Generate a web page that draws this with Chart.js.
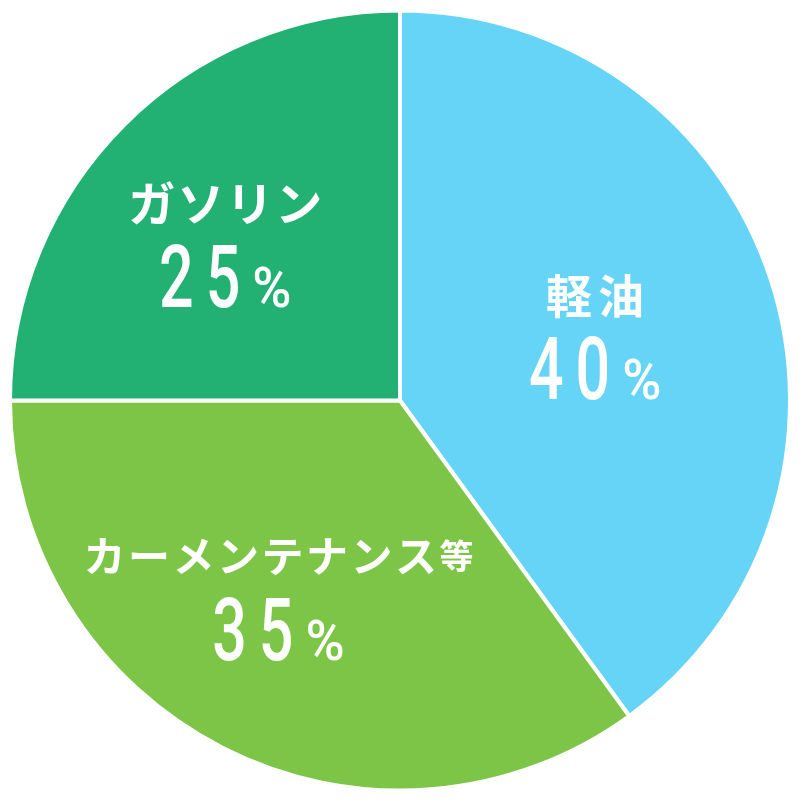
<!DOCTYPE html>
<html>
<head>
<meta charset="utf-8">
<script src="https://cdn.jsdelivr.net/npm/chart.js@4"></script>
<style>
  html, body { margin: 0; padding: 0; background: #fff; }
  #wrap { width: 800px; height: 801px; }
</style>
</head>
<body>
<div id="wrap"><canvas id="pie"></canvas></div>
<script>
// data
const categories = ["軽油", "カーメンテナンス等", "ガソリン"];
const shares = [40, 35, 25];
const sliceColors = ["#66d4f6", "#7dc546", "#23b173"];

// label look per slice (how far out, angle nudge in degrees, font size, letter gap, small trailing chars)
const labelRadius = [0.526, 0.595, 0.6];
const labelTurn = [0, 4.6, -3.3];
const labelSize = [46, 42, 47];
const labelGap = [6, 2.5, 2];
const smallTail = [0, 1, 0];

// draw a row of pieces centred on cx, each piece {text, font, sx}
function drawRow(ctx, pieces, cx, y, gap) {
  let widths = pieces.map(p => {
    ctx.font = p.font;
    return ctx.measureText(p.text).width * p.sx;
  });
  let total = widths.reduce((a, b) => a + b, 0) + gap * (pieces.length - 1);
  let x = cx - total / 2;
  pieces.forEach((p, i) => {
    ctx.save();
    ctx.font = p.font;
    ctx.translate(x, y);
    ctx.scale(p.sx, 1);
    ctx.fillText(p.text, 0, 0);
    ctx.restore();
    x += widths[i] + gap;
  });
}

const sliceLabels = {
  id: "sliceLabels",
  afterDatasetsDraw(chart) {
    const ctx = chart.ctx;
    const meta = chart.getDatasetMeta(0);
    meta.data.forEach((arc, i) => {
      const p = arc.getProps(["x", "y", "startAngle", "endAngle", "outerRadius"], true);
      const mid = (p.startAngle + p.endAngle) / 2 + labelTurn[i] * Math.PI / 180;
      const r = p.outerRadius * labelRadius[i];
      const cx = p.x + Math.cos(mid) * r;
      const cy = p.y + Math.sin(mid) * r;

      ctx.save();
      ctx.fillStyle = "#fff";
      ctx.textAlign = "left";

      // category name
      ctx.textBaseline = "middle";
      const name = categories[i];
      const cut = name.length - smallTail[i];
      const namePieces = [];
      for (let k = 0; k < name.length; k++) {
        const size = k < cut ? labelSize[i] : Math.round(labelSize[i] * 0.8);
        namePieces.push({ text: name[k], font: `bold ${size}px "Noto Sans CJK JP"`, sx: 1 });
      }
      drawRow(ctx, namePieces, cx, cy - 42, labelGap[i]);

      // percentage
      ctx.textBaseline = "alphabetic";
      const digits = String(shares[i]).split("").map(d => ({ text: d, font: '500 87px Roboto', sx: 0.7 }));
      digits.push({ text: "%", font: '500 56px Roboto', sx: 0.95 });
      drawRow(ctx, digits, cx, cy + 62, 12);
      ctx.restore();
    });
  }
};

new Chart(document.getElementById("pie"), {
  type: "pie",
  data: {
    labels: categories,
    datasets: [{
      data: shares,
      backgroundColor: sliceColors,
      borderColor: "#fff",
      borderWidth: 4,
      hoverOffset: 0
    }]
  },
  options: {
    responsive: true,
    maintainAspectRatio: false,
    animation: false,
    layout: { padding: 8 },
    plugins: {
      legend: { display: false },
      tooltip: { enabled: false }
    }
  },
  plugins: [sliceLabels]
});
</script>
</body>
</html>
